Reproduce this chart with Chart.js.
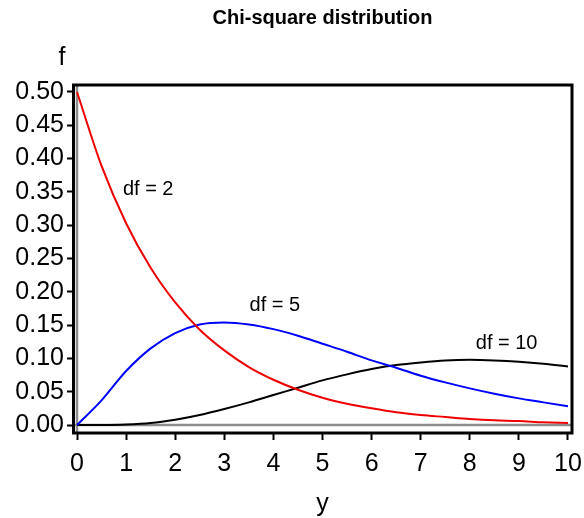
<!DOCTYPE html>
<html>
<head>
<meta charset="utf-8">
<script src="https://cdn.jsdelivr.net/npm/chart.js@4/dist/chart.umd.min.js"></script>
<style>
  html, body { margin: 0; padding: 0; background: #fff; }
  #wrap { width: 584px; height: 518px; }
</style>
</head>
<body>
<div id="wrap"><canvas id="c" width="584" height="518"></canvas></div>
<script>
// ---- data ----
const yValues = [0, 0.5, 1, 1.5, 2, 2.5, 3, 3.5, 4, 4.5, 5, 5.5, 6, 6.5, 7, 7.5, 8, 8.5, 9, 9.5, 10];
const df2 = [0.500, 0.389, 0.303, 0.236, 0.184, 0.143, 0.112, 0.087, 0.068, 0.053, 0.041, 0.032, 0.025, 0.019, 0.015, 0.012, 0.009, 0.007, 0.006, 0.004, 0.003];
const df5 = [0.000, 0.037, 0.081, 0.115, 0.138, 0.151, 0.154, 0.151, 0.144, 0.134, 0.122, 0.110, 0.097, 0.086, 0.074, 0.064, 0.055, 0.047, 0.040, 0.034, 0.028];
const df10 = [0.000, 0.0001, 0.0008, 0.003, 0.008, 0.015, 0.024, 0.034, 0.045, 0.056, 0.067, 0.076, 0.084, 0.090, 0.094, 0.097, 0.098, 0.097, 0.095, 0.092, 0.088];
const seriesNames = ['df = 2', 'df = 5', 'df = 10'];
const xTickLabels = [0, 1, 2, 3, 4, 5, 6, 7, 8, 9, 10];
const yTickLabels = [0.00, 0.05, 0.10, 0.15, 0.20, 0.25, 0.30, 0.35, 0.40, 0.45, 0.50];
const titleText = 'Chi-square distribution';
const xTitle = 'y';
const yTitle = 'f';

// label anchor points (data coordinates)
const labelAt = [[1.45, 0.353], [4.03, 0.179], [8.75, 0.122]];

const FONT = '"Liberation Sans", Arial, Helvetica, sans-serif';

function pts(arr) { return yValues.map((x, i) => ({ x: x, y: arr[i] })); }

const decor = {
  id: 'decor',
  beforeDatasetsDraw(chart) {
    const { ctx, chartArea: a, scales: { x, y } } = chart;
    ctx.save();
    ctx.strokeStyle = '#8c8c8c';
    ctx.lineWidth = 2.5;
    const x0 = x.getPixelForValue(0), y0 = y.getPixelForValue(0);
    ctx.beginPath();
    ctx.moveTo(x0, a.top); ctx.lineTo(x0, a.bottom);
    ctx.moveTo(a.left, y0); ctx.lineTo(a.right, y0);
    ctx.stroke();
    ctx.restore();
  },
  afterDatasetsDraw(chart) {
    const { ctx, chartArea: a, scales: { x, y } } = chart;
    ctx.save();
    ctx.strokeStyle = '#000';
    ctx.lineWidth = 3;
    ctx.strokeRect(a.left + 0.5, a.top, a.right - a.left - 0.5, a.bottom - a.top);
    ctx.fillStyle = '#000';
    ctx.textAlign = 'center';
    ctx.textBaseline = 'middle';
    ctx.font = '20px ' + FONT;
    seriesNames.forEach((n, i) => {
      ctx.fillText(n, x.getPixelForValue(labelAt[i][0]), y.getPixelForValue(labelAt[i][1]));
    });
    ctx.font = 'bold 20px ' + FONT;
    ctx.fillText(titleText, (a.left + a.right) / 2, 18);
    ctx.font = '25px ' + FONT;
    ctx.fillText(yTitle, 62, 58);
    ctx.fillText(xTitle, (a.left + a.right) / 2, 504);
    ctx.restore();
  }
};

new Chart(document.getElementById('c'), {
  type: 'line',
  data: {
    datasets: [
      { label: seriesNames[0], data: pts(df2), borderColor: '#ee0000', borderWidth: 2, pointRadius: 0, cubicInterpolationMode: 'monotone' },
      { label: seriesNames[1], data: pts(df5), borderColor: '#0000ff', borderWidth: 2, pointRadius: 0, cubicInterpolationMode: 'monotone' },
      { label: seriesNames[2], data: pts(df10), borderColor: '#000000', borderWidth: 2, pointRadius: 0, cubicInterpolationMode: 'monotone' }
    ]
  },
  options: {
    responsive: false,
    animation: false,
    devicePixelRatio: 1,
    layout: { padding: { top: 85, right: 12, left: 0, bottom: 0 } },
    plugins: { legend: { display: false }, title: { display: false }, tooltip: { enabled: false } },
    scales: {
      x: {
        type: 'linear',
        min: -0.0815, max: 10.0815,
        afterFit(s) { s.height = 85; s.paddingLeft = 0; s.paddingRight = 0; },
        afterBuildTicks(s) { s.ticks = xTickLabels.map(v => ({ value: v })); },
        border: { display: false },
        grid: { drawOnChartArea: false, drawTicks: true, tickLength: 7, tickWidth: 2, color: '#000' },
        ticks: { color: '#000', font: { size: 25, family: FONT }, padding: 9, maxRotation: 0, callback: v => String(v) }
      },
      y: {
        type: 'linear',
        min: -0.012, max: 0.5105,
        afterFit(s) { s.width = 73; s.paddingTop = 0; s.paddingBottom = 0; },
        afterBuildTicks(s) { s.ticks = yTickLabels.map(v => ({ value: v })); },
        border: { display: false },
        grid: { drawOnChartArea: false, drawTicks: true, tickLength: 6, tickWidth: 2, color: '#000' },
        ticks: { color: '#000', font: { size: 25, family: FONT }, padding: 3, callback: v => Number(v).toFixed(2) }
      }
    }
  },
  plugins: [decor]
});
</script>
</body>
</html>
